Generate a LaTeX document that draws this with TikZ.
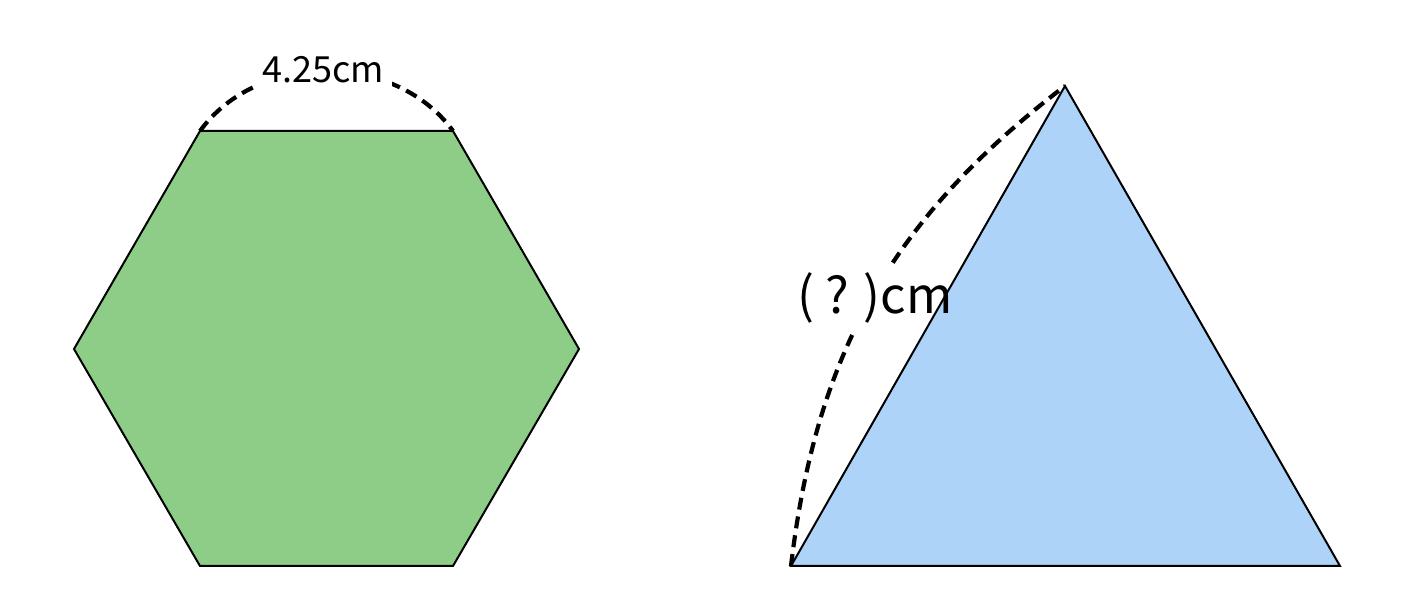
\documentclass[tikz,border=0pt]{standalone}
\usepackage{fontspec}
\setmainfont{Noto Sans CJK SC}
\definecolor{hexgreen}{RGB}{142,205,136}
\definecolor{triblue}{RGB}{174,211,248}
\begin{document}
\begin{tikzpicture}[x=1pt,y=1pt,
  shapeline/.style={draw=black,line width=2pt,line join=miter},
  measure/.style={draw=black,line width=4.2pt,dash pattern=on 12pt off 7pt},
  lbl/.style={inner xsep=8pt,inner ysep=9pt,text=black}]
\useasboundingbox (0,0) rectangle (1426,615);
% hexagon
\coordinate (h1) at (200,484);
\coordinate (h2) at (453,484);
\coordinate (h3) at (579,266);
\coordinate (h4) at (453,49);
\coordinate (h5) at (200,49);
\coordinate (h6) at (74,266);
\fill[hexgreen] (h1)--(h2)--(h3)--(h4)--(h5)--(h6)--cycle;
\draw[shapeline] (h1)--(h2)--(h3)--(h4)--(h5)--(h6)--cycle;
\draw[measure] (h1) to[bend left=54] (h2);
\node[lbl,fill=white] (hl) at (323,545) {\fontsize{36}{42}\selectfont 4.25cm};
% triangle
\coordinate (t1) at (791,49);
\coordinate (t2) at (1340,49);
\coordinate (t3) at (1065,529);
\draw[measure] (t1) to[bend left=23] (t3);
\node[lbl,fill=white] (tlbg) at (875,317) {\fontsize{50}{58}\selectfont\phantom{( ? )cm}};
\fill[triblue] (t1)--(t2)--(t3)--cycle;
\draw[shapeline] (t1)--(t2)--(t3)--cycle;
\node[lbl] (tl) at (tlbg) {\fontsize{50}{58}\selectfont ( ? )cm};
\end{tikzpicture}
\end{document}
